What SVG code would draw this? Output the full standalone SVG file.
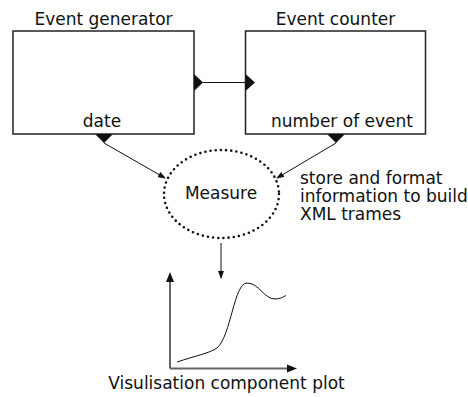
<svg xmlns="http://www.w3.org/2000/svg" width="468" height="397" viewBox="0 0 468 397">
<defs>
<style>
text{font-family:"DejaVu Sans","Liberation Sans",sans-serif;font-size:17px;fill:#111}
.box{fill:#fff;stroke:#222;stroke-width:1.5}
.ln{stroke:#111;stroke-width:1;fill:none}
.tri{fill:#111}
.axis{stroke:#666;stroke-width:2;fill:none}
</style>
<marker id="ah" markerWidth="8" markerHeight="6" refX="7" refY="3" orient="auto" markerUnits="userSpaceOnUse">
<path d="M0,0 L8,3 L0,6 Z" fill="#111"/>
</marker>
<marker id="ax" markerWidth="10" markerHeight="10" refX="9" refY="5" orient="auto" markerUnits="userSpaceOnUse">
<path d="M0,0 L10,5 L0,10 Z" fill="#111"/>
</marker>
</defs>
<rect width="468" height="397" fill="#fff"/>
<g id="event-generator">
<text x="103.5" y="25" text-anchor="middle">Event generator</text>
<rect class="box" x="13" y="31" width="181" height="103"/>
<text x="102" y="127" text-anchor="middle">date</text>
<path class="tri" d="M194,74 L203,82.5 L194,91 Z"/>
<path class="tri" d="M95,134 L113,134 L104,143 Z"/>
</g>
<g id="event-counter">
<text x="335.5" y="25" text-anchor="middle">Event counter</text>
<rect class="box" x="245.5" y="31" width="180" height="103"/>
<text x="342" y="127" text-anchor="middle">number of event</text>
<path class="tri" d="M245.5,74 L255,82.5 L245.5,91 Z"/>
<path class="tri" d="M327,134 L345,134 L336,143 Z"/>
</g>
<g id="measure">
<ellipse cx="221.5" cy="194" rx="57.5" ry="44" fill="none" stroke="#111" stroke-width="2.6" stroke-linecap="round" stroke-dasharray="0 5.2"/>
<text x="221" y="199" text-anchor="middle">Measure</text>
</g>
<g id="note">
<text x="300" y="184">store and format</text>
<text x="300" y="202">information to build</text>
<text x="300" y="220">XML trames</text>
</g>
<g id="plot">
<path class="axis" d="M170,368.5 L170,282" />
<path class="axis" d="M170,368.5 L287,368.5" />
<path d="M166,282 L170,272 L174,282 Z" fill="#111"/>
<path d="M287,364.5 L297,368.5 L287,372.5 Z" fill="#111"/>
<path class="ln" stroke-width="1.3" d="M177,362 C195,356 210,353 217,348 C231,336 234,283 247,283 C259,283 264,299 275,299 C280,299 283,297 286,295.5"/>
<text x="226.5" y="389" text-anchor="middle">Visulisation component plot</text>
</g>
<g id="connectors">
<line class="ln" x1="203" y1="82.5" x2="245.5" y2="82.5"/>
<line class="ln" x1="104" y1="143" x2="165" y2="178" marker-end="url(#ah)"/>
<line class="ln" x1="336" y1="143" x2="277" y2="178" marker-end="url(#ah)"/>
<line class="ln" x1="221" y1="243" x2="221" y2="278" marker-end="url(#ah)"/>
</g>
</svg>
